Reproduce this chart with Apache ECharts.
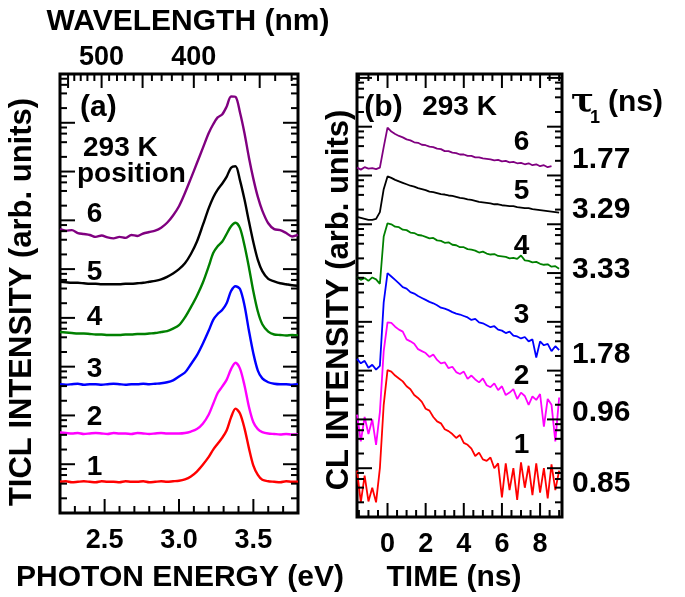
<!DOCTYPE html>
<html>
<head>
<meta charset="utf-8">
<script src="https://cdn.jsdelivr.net/npm/echarts@6/dist/echarts.min.js"></script>
<style>html,body{margin:0;padding:0;background:#fff}#c{width:685px;height:597px}</style>
</head>
<body>
<div id="c"></div>
<script>
// ---------- Panel (a): spectra (photon energy, eV) ----------
const energyA = [2.20,2.24,2.28,2.32,2.36,2.40,2.44,2.48,2.52,2.56,2.60,2.64,2.68,2.72,2.76,2.80,2.84,2.88,2.92,2.96,
  3.00,3.04,3.08,3.12,3.16,3.20,
  3.23,3.26,3.29,3.32,3.35,3.38,3.41,3.44,3.47,3.50,3.53,3.56,
  3.60,3.64,3.68,3.72,3.76,3.80];
// intensities in decades (log scale, offset per position)
const spec1 = [0.64,0.65,0.63,0.64,0.65,0.64,0.63,0.65,0.64,0.64,0.63,0.65,0.64,0.64,0.65,0.63,0.64,0.65,0.64,0.65,
  0.66,0.69,0.75,0.85,0.99,1.15,
  1.30,1.42,1.54,1.69,1.96,2.14,2.04,1.74,1.33,0.97,0.78,0.68,
  0.65,0.64,0.63,0.65,0.64,0.64];
const spec2 = [1.65,1.64,1.63,1.64,1.62,1.63,1.64,1.63,1.62,1.64,1.63,1.63,1.62,1.64,1.63,1.62,1.63,1.64,1.63,1.63,
  1.63,1.64,1.67,1.72,1.83,2.02,
  2.24,2.46,2.59,2.73,2.95,3.08,2.96,2.62,2.18,1.86,1.72,1.66,
  1.63,1.62,1.61,1.62,1.61,1.61];
const spec3 = [2.64,2.63,2.64,2.65,2.63,2.64,2.64,2.63,2.64,2.65,2.64,2.63,2.64,2.64,2.65,2.64,2.65,2.66,2.68,2.72,
  2.80,2.88,3.05,3.23,3.47,3.74,
  3.96,4.08,4.16,4.30,4.55,4.65,4.59,4.26,3.74,3.27,2.92,2.76,
  2.68,2.65,2.64,2.64,2.63,2.64];
const spec4 = [3.71,3.70,3.69,3.68,3.68,3.67,3.66,3.66,3.65,3.65,3.65,3.66,3.66,3.67,3.67,3.68,3.69,3.71,3.73,3.78,
  3.85,4.01,4.22,4.45,4.72,5.06,
  5.33,5.47,5.56,5.72,5.88,5.95,5.84,5.49,5.04,4.54,4.13,3.87,
  3.72,3.66,3.65,3.64,3.65,3.64];
const spec5 = [4.74,4.73,4.72,4.72,4.71,4.70,4.70,4.69,4.69,4.69,4.69,4.70,4.70,4.71,4.72,4.74,4.76,4.79,4.84,4.91,
  5.00,5.12,5.31,5.56,5.90,6.25,
  6.47,6.63,6.75,6.89,7.08,7.11,6.82,6.43,5.98,5.55,5.19,4.96,
  4.80,4.75,4.71,4.69,4.67,4.66];
const spec6 = [5.82,5.79,5.80,5.74,5.72,5.70,5.66,5.69,5.65,5.63,5.66,5.64,5.70,5.68,5.73,5.76,5.79,5.85,5.95,6.10,
  6.29,6.56,6.86,7.17,7.48,7.79,
  7.97,8.11,8.17,8.33,8.54,8.53,8.21,7.79,7.29,6.85,6.48,6.20,
  5.94,5.82,5.80,5.74,5.67,5.70];

// ---------- Panel (b): CL transients (time, ns) ----------
const timeB = [-1.6,-1.4,-1.2,-1.0,-0.8,-0.6,-0.4,-0.2,0.0,0.2,0.4,0.6,0.8,1.0,1.2,1.4,1.6,1.8,2.0,2.2,2.4,2.6,2.8,3.0,
  3.2,3.4,3.6,3.8,4.0,4.2,4.4,4.6,4.8,5.0,5.2,5.4,5.6,5.8,6.0,6.2,6.4,6.6,6.8,7.0,7.2,7.4,7.6,7.8,8.0,8.2,8.4,8.6,8.8,9.0];
const decay1 = [0.95,0.30,0.85,0.32,0.60,0.30,1.00,2.30,3.01,
  2.98,2.90,2.84,2.78,2.68,2.62,2.50,2.44,2.36,2.22,2.18,2.05,1.96,1.92,1.80,
  1.76,1.70,1.62,1.68,1.52,1.48,1.40,1.25,1.32,1.18,1.15,1.22,1.00,1.10,0.40,1.10,0.55,1.00,0.35,1.12,0.60,1.05,0.45,1.10,0.50,1.00,0.38,1.08,0.55,0.95];
const decay2 = [2.10,1.55,2.05,1.70,2.00,1.48,2.15,3.40,3.99,
  3.98,3.90,3.84,3.80,3.64,3.60,3.55,3.44,3.40,3.36,3.28,3.33,3.22,3.15,3.17,
  3.05,3.08,2.97,2.93,2.98,2.83,2.90,2.82,2.76,2.84,2.70,2.66,2.74,2.60,2.68,2.50,2.55,2.62,2.42,2.55,2.48,2.30,2.47,2.40,2.52,1.85,2.42,2.30,1.55,2.45];
const decay3 = [3.24,3.15,3.20,3.06,3.12,3.02,3.10,4.40,5.00,
  4.93,4.86,4.79,4.71,4.68,4.61,4.58,4.53,4.49,4.45,4.41,4.38,4.34,4.29,4.27,
  4.24,4.20,4.17,4.15,4.12,4.09,4.04,4.06,3.99,3.97,3.93,3.89,3.91,3.84,3.82,3.77,3.80,3.72,3.70,3.66,3.69,3.60,3.64,3.27,3.60,3.52,3.55,3.40,3.50,3.42];
const decay4 = [4.92,4.86,4.90,4.84,4.91,4.87,4.78,5.75,6.02,6.00,5.95,5.94,5.89,5.88,5.83,5.82,5.78,5.77,5.74,5.71,5.72,5.67,5.66,5.62,
  5.63,5.58,5.57,5.53,5.53,5.49,5.48,5.46,5.42,5.44,5.40,5.38,5.39,5.35,5.34,5.33,5.30,5.31,5.29,5.36,5.26,5.25,5.22,5.23,5.19,5.17,5.18,5.13,5.14,5.09];
const decay5 = [6.15,6.13,6.11,6.09,6.09,6.11,6.25,6.72,6.98,6.95,6.91,6.88,6.85,6.82,6.79,6.77,6.74,6.72,6.70,6.67,6.66,6.64,6.62,6.61,
  6.59,6.58,6.56,6.54,6.53,6.51,6.50,6.48,6.46,6.45,6.44,6.43,6.41,6.41,6.39,6.38,6.37,6.37,6.35,6.34,6.33,6.33,6.31,6.30,6.29,6.28,6.27,6.26,6.25,6.24];
const decay6 = [7.16,7.12,7.17,7.14,7.15,7.13,7.16,7.58,7.98,7.90,7.85,7.81,7.78,7.74,7.72,7.68,7.67,7.63,7.62,7.59,7.58,7.55,7.54,7.50,
  7.50,7.47,7.46,7.43,7.43,7.40,7.40,7.37,7.37,7.35,7.34,7.33,7.31,7.32,7.29,7.30,7.27,7.28,7.25,7.26,7.23,7.25,7.21,7.23,7.19,7.21,7.17,7.19,null,null];

// ---------- labels ----------
const positions = ['1','2','3','4','5','6'];
const tau1 = ['0.85','0.96','1.78','3.33','3.29','1.77'];
const energyLabels = [2.5, 3.0, 3.5];
const timeLabels = [0, 2, 4, 6, 8];
const wavelengthLabels = [500, 400];
const colors = ['#ff0000','#ff00ff','#0000ff','#008000','#000000','#800080'];

const FONT = '"Liberation Sans", Arial, Helvetica, sans-serif';
const HC = 1239.84; // eV*nm

// ---------- tick marks (drawn in data coordinates) ----------
function logTicks(list, xl, xr, maxDec){
  for (let k = 0; k <= 9; k++) {
    for (const m of [1,2,4,6,8]) {
      const v = k + Math.log10(m);
      if (v <= 0.001 || v >= maxDec - 0.01) continue;
      const L = m === 1 ? 15 : 7;
      list.push([xl, v, L, 0], [xr, v, -L, 0]);
    }
  }
}
const ticksA = [];
for (let i = 23; i <= 37; i++) {
  const e = i / 10;
  const L = energyLabels.some(m => Math.abs(m - e) < 1e-6) ? 14 : 7;
  ticksA.push([e, 0, 0, -L]);
}
for (let w = 330; w <= 550; w += 10) {
  ticksA.push([HC / w, 9, 0, w % 50 === 0 ? 14 : 7]);
}
logTicks(ticksA, 2.2, 3.8, 9);

const ticksB = [];
for (let i = -3; i <= 18; i++) {
  const t = i / 2;
  const L = (i % 4 === 0) ? 14 : 7;
  ticksB.push([t, 0, 0, -L], [t, 9.08, 0, L]);
}
logTicks(ticksB, -1.6, 9.15, 9.08);

function tickRender(params, api) {
  const p = api.coord([api.value(0), api.value(1)]);
  return {type: 'line', shape: {x1: p[0], y1: p[1], x2: p[0] + api.value(2), y2: p[1] + api.value(3)},
          style: {stroke: '#000', lineWidth: 2}};
}

function txt(x, y, text, size, align, rotation, family) {
  return {type: 'text', x: x, y: y, rotation: rotation || 0, silent: true, z: 10,
    style: {text: text, fill: '#000', font: 'bold ' + size + 'px ' + (family || FONT),
      align: align || 'center', verticalAlign: 'middle', textAlign: align || 'center', textVerticalAlign: 'middle'}};
}

const specs = [spec1, spec2, spec3, spec4, spec5, spec6];
const decays = [decay1, decay2, decay3, decay4, decay5, decay6];

const series = [];
specs.forEach((s, i) => series.push({
  name: 'spectrum ' + positions[i], type: 'line', xAxisIndex: 0, yAxisIndex: 0,
  data: energyA.map((e, j) => [e, s[j]]), showSymbol: false, symbol: 'none', smooth: 0.3,
  lineStyle: {color: colors[i], width: 2.4}, itemStyle: {color: colors[i]}, z: 3
}));
decays.forEach((s, i) => series.push({
  name: 'transient ' + positions[i], type: 'line', xAxisIndex: 1, yAxisIndex: 1,
  data: timeB.map((t, j) => [t, s[j]]), showSymbol: false, symbol: 'none', connectNulls: false,
  lineStyle: {color: colors[i], width: 1.8}, itemStyle: {color: colors[i]}, z: 3
}));
series.push({type: 'custom', xAxisIndex: 0, yAxisIndex: 0, data: ticksA, renderItem: tickRender, silent: true, clip: false, z: 5});
series.push({type: 'custom', xAxisIndex: 1, yAxisIndex: 1, data: ticksB, renderItem: tickRender, silent: true, clip: false, z: 5});
series.push({type: 'custom', xAxisIndex: 0, yAxisIndex: 0, silent: true, clip: false, z: 5,
  data: wavelengthLabels.map(w => [HC / w, 9, w]),
  renderItem: function (params, api) {
    const c = api.coord([api.value(0), api.value(1)]);
    return {type: 'text', x: c[0], y: c[1] - 16,
      style: {text: String(api.value(2)), fill: '#000', font: 'bold 27px ' + FONT,
        align: 'center', verticalAlign: 'middle', textAlign: 'center', textVerticalAlign: 'middle'}};
  }});

const axisLab = {fontSize: 27, fontWeight: 'bold', fontFamily: FONT, color: '#000', margin: 14};
const hiddenY = {type: 'value', axisLine: {show: false}, axisTick: {show: false}, axisLabel: {show: false}, splitLine: {show: false}};

const labA = [467, 417.5, 369, 317.5, 272, 214.5];
const labelsB = [445, 376, 315, 246, 191, 142.5];
const tauY = [484, 413, 355, 270, 210, 160];

const graphics = [
  txt(188, 22, 'WAVELENGTH (nm)', 30),
  txt(180, 578, 'PHOTON ENERGY (eV)', 30),
  txt(454, 578, 'TIME (ns)', 30),
  txt(22, 302, 'TICL INTENSITY (arb. units)', 31, 'center', Math.PI / 2),
  txt(339, 300, 'CL INTENSITY (arb. units)', 31, 'center', Math.PI / 2),
  txt(80, 108, '(a)', 30, 'left'),
  txt(83, 148, '293 K', 28, 'left'),
  txt(77, 174, 'position', 28, 'left'),
  txt(383.5, 108, '(b)', 30),
  txt(459.5, 107.5, '293 K', 28),
  txt(571, 103, '\u03c4', 34, 'left', 0, '"DejaVu Serif", serif'),
  txt(590, 118, '1', 18, 'left'),
  txt(608, 103, '(ns)', 30, 'left')
];
positions.forEach((p, i) => {
  graphics.push(txt(94.5, labA[i], p, 28));
  graphics.push(txt(521.5, labelsB[i], p, 28));
  graphics.push(txt(572, tauY[i], tau1[i], 30, 'left'));
});

const option = {
  animation: false,
  backgroundColor: '#fff',
  grid: [
    {left: 60, top: 74, width: 238, height: 439, show: true, borderColor: '#000', borderWidth: 3, backgroundColor: 'transparent'},
    {left: 357, top: 74, width: 205, height: 443, show: true, borderColor: '#000', borderWidth: 3, backgroundColor: 'transparent'}
  ],
  xAxis: [
    {gridIndex: 0, type: 'value', min: 2.2, max: 3.8, axisLine: {show: false}, axisTick: {show: false}, splitLine: {show: false},
     axisLabel: Object.assign({customValues: energyLabels, formatter: v => v.toFixed(1)}, axisLab)},
    {gridIndex: 1, type: 'value', min: -1.6, max: 9.15, axisLine: {show: false}, axisTick: {show: false}, splitLine: {show: false},
     axisLabel: Object.assign({customValues: timeLabels, formatter: v => String(v)}, axisLab)}
  ],
  yAxis: [
    Object.assign({gridIndex: 0, min: 0, max: 9}, hiddenY),
    Object.assign({gridIndex: 1, min: 0, max: 9.08}, hiddenY)
  ],
  graphic: {elements: graphics},
  series: series
};

const chart = echarts.init(document.getElementById('c'), null, {renderer: 'canvas'});
chart.setOption(option);
</script>
</body>
</html>
